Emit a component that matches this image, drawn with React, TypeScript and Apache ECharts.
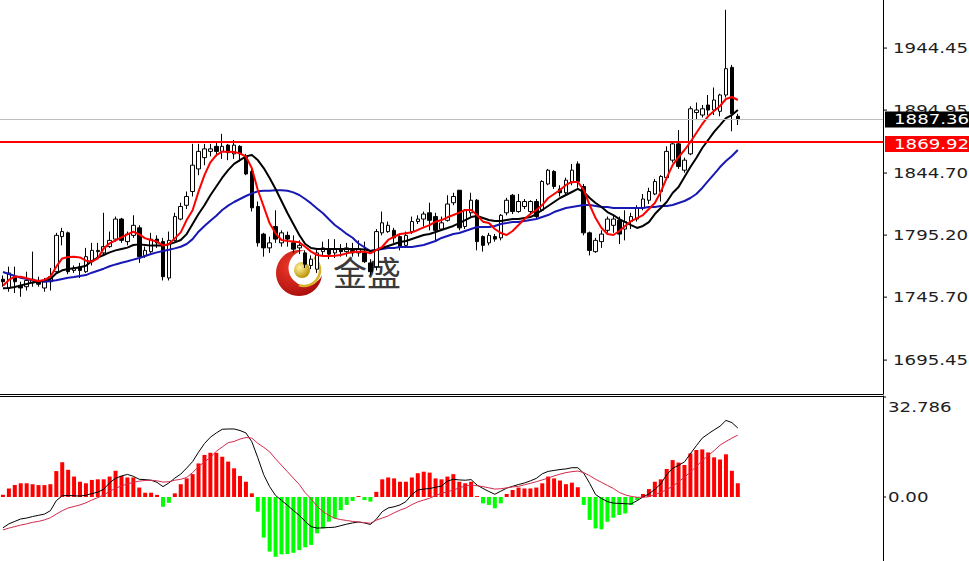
import React, { useEffect, useRef } from 'react';
import * as echarts from 'echarts';

// ---- Candles (OHLC), one per bar ----
const opens = [
  1760, 1753, 1762, 1755, 1754, 1757, 1758, 1753, 1758, 1766,
  1794, 1797, 1767, 1770, 1766, 1774, 1782, 1781, 1786, 1792,
  1808, 1790, 1795, 1801, 1779, 1782, 1792, 1790, 1761, 1791,
  1808, 1819, 1830, 1848, 1857, 1862, 1866, 1862, 1867, 1860,
  1866, 1858, 1846, 1818, 1796, 1785, 1802, 1789, 1795, 1789,
  1785, 1781, 1771, 1768, 1782, 1784, 1781, 1784, 1782, 1783,
  1781, 1781, 1773, 1770, 1797, 1798, 1799, 1794, 1787, 1798,
  1806, 1808, 1813, 1810, 1800, 1807, 1821, 1831, 1802, 1813,
  1823, 1794, 1789, 1794, 1793, 1813, 1827, 1814, 1818, 1814,
  1822, 1815, 1836, 1846, 1832, 1829, 1837, 1852, 1834, 1797,
  1782, 1790, 1799, 1803, 1807, 1800, 1806, 1808, 1817, 1823,
  1828, 1830, 1841, 1855, 1868, 1847, 1860, 1893, 1891, 1899,
  1895, 1894, 1907, 1929, 1890,
];
const closes = [
  1758, 1765, 1758, 1753, 1759, 1760, 1756, 1758, 1762, 1795,
  1798, 1766, 1769, 1767, 1778, 1783, 1783, 1786, 1791, 1808,
  1791, 1796, 1803, 1778, 1783, 1792, 1789, 1762, 1791, 1810,
  1818, 1826, 1851, 1862, 1864, 1864, 1862, 1866, 1861, 1867,
  1860, 1844, 1817, 1789, 1785, 1789, 1792, 1797, 1792, 1784,
  1787, 1772, 1776, 1781, 1785, 1780, 1784, 1782, 1785, 1781,
  1784, 1774, 1766, 1798, 1805, 1803, 1793, 1786, 1795, 1806,
  1808, 1812, 1807, 1799, 1805, 1820, 1826, 1801, 1815, 1823,
  1790, 1787, 1795, 1792, 1811, 1823, 1814, 1822, 1822, 1822,
  1810, 1838, 1847, 1834, 1829, 1839, 1847, 1838, 1797, 1783,
  1791, 1796, 1808, 1808, 1796, 1806, 1810, 1817, 1824, 1830,
  1838, 1842, 1862, 1868, 1850, 1855, 1896, 1895, 1896, 1895,
  1903, 1907, 1928, 1892, 1887.36,
];
const lows = [
  1754, 1750, 1749, 1746, 1751, 1754, 1754, 1750, 1751, 1765,
  1787, 1764, 1765, 1761, 1765, 1771, 1777, 1780, 1785, 1790,
  1789, 1787, 1793, 1773, 1777, 1781, 1785, 1759, 1759, 1790,
  1807, 1816, 1826, 1843, 1851, 1858, 1858, 1856, 1855, 1856,
  1854, 1843, 1814, 1786, 1778, 1781, 1789, 1786, 1786, 1781,
  1780, 1769, 1768, 1765, 1779, 1776, 1777, 1778, 1778, 1778,
  1778, 1773, 1763, 1767, 1795, 1797, 1789, 1783, 1786, 1796,
  1804, 1802, 1799, 1790, 1799, 1806, 1819, 1799, 1800, 1810,
  1783, 1782, 1787, 1790, 1791, 1811, 1812, 1813, 1816, 1811,
  1808, 1814, 1835, 1832, 1826, 1827, 1835, 1833, 1795, 1779,
  1781, 1785, 1797, 1797, 1788, 1791, 1800, 1806, 1815, 1820,
  1827, 1822, 1839, 1853, 1848, 1845, 1859, 1887, 1889, 1891,
  1891, 1890, 1905, 1878, 1883,
];
const highs = [
  1763, 1770, 1770, 1758, 1766, 1782, 1762, 1761, 1769, 1797,
  1801, 1798, 1771, 1773, 1785, 1789, 1789, 1813, 1798, 1810,
  1809, 1798, 1811, 1803, 1786, 1797, 1795, 1793, 1798, 1813,
  1821, 1830, 1868, 1868, 1868, 1868, 1870, 1876, 1868, 1871,
  1867, 1860, 1848, 1822, 1797, 1794, 1815, 1799, 1798, 1795,
  1791, 1783, 1779, 1784, 1790, 1792, 1792, 1788, 1789, 1789,
  1791, 1790, 1776, 1800, 1814, 1806, 1801, 1795, 1798, 1810,
  1811, 1814, 1821, 1813, 1810, 1827, 1829, 1831, 1816, 1829,
  1824, 1795, 1797, 1796, 1812, 1825, 1828, 1828, 1824, 1823,
  1824, 1839, 1848, 1847, 1835, 1841, 1852, 1854, 1836, 1798,
  1793, 1799, 1810, 1811, 1810, 1815, 1813, 1819, 1828, 1833,
  1840, 1843, 1866, 1870, 1879, 1857, 1898, 1901, 1899, 1907,
  1913, 1908, 1975, 1931, 1892,
];

// ---- Moving averages ----
const maRed = [
  1754.8, 1759.4, 1762.0, 1762.0, 1760.7, 1759.4, 1758.6, 1759.4, 1762.0, 1770.0,
  1776.6, 1777.7, 1778.0, 1777.4, 1774.8, 1774.0, 1776.6, 1784.6, 1788.6, 1791.0,
  1793.4, 1795.8, 1797.9, 1795.8, 1792.6, 1791.3, 1790.0, 1786.8, 1788.1, 1792.6,
  1797.4, 1807.2, 1815.0, 1829.9, 1843.1, 1853.3, 1859.1, 1861.8, 1861.8, 1861.5,
  1860.4, 1857.8, 1848.5, 1831.2, 1817.9, 1804.6, 1796.6, 1791.3, 1790.5, 1790.0,
  1789.4, 1785.9, 1782.0, 1779.3, 1778.5, 1778.5, 1778.8, 1779.3, 1780.6, 1781.7,
  1782.0, 1782.0, 1780.7, 1783.3, 1785.9, 1791.3, 1793.9, 1796.1, 1796.6, 1797.4,
  1799.3, 1801.4, 1803.2, 1805.9, 1807.2, 1809.4, 1811.2, 1813.1, 1815.2, 1815.2,
  1811.2, 1805.9, 1804.8, 1800.1, 1796.9, 1795.3, 1798.5, 1803.2, 1808.0, 1812.0,
  1815.2, 1819.2, 1824.8, 1828.0, 1831.2, 1835.2, 1837.6, 1837.6, 1831.2, 1819.2,
  1808.8, 1800.9, 1796.1, 1795.3, 1798.5, 1802.5, 1806.4, 1808.8, 1811.2, 1816.0,
  1820.8, 1829.6, 1840.8, 1851.1, 1857.5, 1863.1, 1869.5, 1876.7, 1883.8, 1890.2,
  1894.2, 1898.2, 1903.8, 1905.4, 1903.0,
];
const maBlack = [
  1752.7, 1753.0, 1753.8, 1755.1, 1756.2, 1757.5, 1758.0, 1759.1, 1760.2, 1764.7,
  1767.1, 1768.1, 1768.7, 1769.5, 1770.8, 1774.5, 1777.2, 1779.3, 1781.4, 1783.0,
  1784.1, 1785.2, 1787.3, 1787.8, 1787.3, 1786.8, 1786.8, 1786.8, 1787.8, 1789.4,
  1791.3, 1796.0, 1804.0, 1812.0, 1819.0, 1827.0, 1834.0, 1841.0, 1847.0, 1852.0,
  1855.0, 1858.0, 1859.1, 1855.1, 1848.7, 1840.8, 1832.0, 1822.4, 1812.8, 1804.0,
  1795.3, 1788.1, 1784.9, 1784.1, 1784.1, 1784.1, 1784.1, 1784.1, 1784.1, 1784.1,
  1784.1, 1783.8, 1782.5, 1783.3, 1784.9, 1786.5, 1788.1, 1789.7, 1790.5, 1792.1,
  1793.7, 1795.3, 1796.1, 1797.7, 1799.3, 1800.9, 1802.5, 1804.8, 1807.2, 1809.6,
  1810.4, 1808.8, 1807.2, 1806.4, 1806.4, 1807.2, 1808.0, 1808.0, 1808.8, 1809.6,
  1812.0, 1815.2, 1818.4, 1821.6, 1824.8, 1827.2, 1829.6, 1832.0, 1829.6, 1824.8,
  1820.8, 1817.6, 1813.6, 1811.2, 1808.0, 1805.6, 1803.2, 1800.9, 1802.5, 1805.6,
  1812.0, 1816.8, 1821.6, 1828.8, 1833.6, 1841.6, 1849.5, 1856.7, 1864.7, 1871.1,
  1877.5, 1883.0, 1888.6, 1891.0, 1895.0,
];
const maBlue = [
  1765.7, 1764.1, 1762.6, 1761.2, 1760.2, 1759.1, 1758.6, 1758.0, 1758.6, 1759.1,
  1760.2, 1761.2, 1761.7, 1762.6, 1763.3, 1765.2, 1766.8, 1768.4, 1770.3, 1771.8,
  1773.2, 1774.3, 1775.6, 1776.9, 1778.5, 1780.1, 1781.4, 1782.5, 1783.5, 1784.6,
  1785.9, 1788.1, 1792.0, 1797.9, 1802.4, 1806.7, 1810.7, 1815.2, 1818.7, 1821.6,
  1824.0, 1826.4, 1828.5, 1830.1, 1830.6, 1830.6, 1830.9, 1830.9, 1830.6, 1829.3,
  1827.2, 1824.0, 1820.5, 1816.5, 1812.6, 1807.8, 1803.3, 1799.8, 1796.1, 1793.1,
  1788.5, 1785.5, 1782.5, 1783.3, 1784.1, 1784.9, 1784.9, 1785.7, 1785.7, 1785.7,
  1786.5, 1787.3, 1788.9, 1790.5, 1792.9, 1794.5, 1796.1, 1796.9, 1798.5, 1800.1,
  1801.7, 1801.7, 1801.7, 1802.5, 1804.0, 1804.8, 1805.6, 1805.6, 1806.4, 1807.2,
  1808.0, 1809.6, 1811.2, 1813.6, 1815.2, 1816.8, 1817.6, 1818.4, 1819.2, 1819.2,
  1818.4, 1817.6, 1817.6, 1816.8, 1816.8, 1816.8, 1816.8, 1816.8, 1816.8, 1817.6,
  1817.6, 1818.4, 1818.4, 1819.2, 1820.8, 1822.4, 1824.8, 1828.0, 1832.8, 1838.4,
  1843.9, 1849.5, 1854.3, 1858.3, 1863.1,
];

// ---- MACD panel ----
const macdHist = [
  0.7, 2.8, 3.9, 4.5, 4.5, 4.2, 3.9, 3.9, 4.2, 8.5,
  11.4, 8.9, 6.7, 5.0, 4.5, 5.6, 5.8, 5.8, 6.7, 8.6,
  6.9, 6.4, 6.4, 3.1, 1.4, 1.4, 0.7, -3.2, -1.9, 1.2,
  4.2, 6.1, 7.5, 11.0, 13.8, 14.5, 14.5, 13.2, 11.6, 9.4,
  6.9, 5.0, 1.2, -4.8, -13.3, -17.9, -19.6, -18.8, -18.7, -18.3,
  -17.4, -16.5, -15.7, -11.9, -10.3, -8.1, -7.0, -4.3, -2.6, -1.3,
  0.3, -1.0, -1.5, 1.7, 5.8, 6.4, 6.1, 5.0, 5.0, 6.4,
  7.8, 8.3, 8.0, 6.1, 5.8, 6.7, 7.5, 5.0, 4.5, 5.0,
  0.3, -2.1, -2.6, -3.7, -2.1, 1.0, 2.3, 3.1, 2.8, 2.8,
  3.1, 4.5, 6.7, 6.1, 5.4, 4.2, 4.7, 3.2, -2.6, -7.5,
  -10.3, -10.6, -8.1, -6.8, -5.9, -5.4, -2.6, -1.0, 1.0, 2.6,
  5.0, 5.8, 9.2, 12.1, 11.3, 10.5, 14.3, 15.4, 15.6, 14.6,
  13.0, 12.3, 14.0, 8.6, 4.5,
];
const macdDif = [
  -10.1, -8.8, -8.0, -7.2, -6.9, -6.4, -6.0, -5.6, -4.5, -1.2,
  0.4, 0.5, 0.4, 0.3, 0.6, 1.1, 1.6, 2.5, 4.7, 6.1,
  6.9, 7.4, 6.8, 5.8, 5.7, 5.5, 4.8, 3.4, 4.6, 6.2,
  7.5, 9.5, 11.6, 14.7, 17.5, 19.6, 21.0, 22.2, 22.3, 22.3,
  21.8, 21.0, 18.1, 12.9, 7.3, 3.4, 0.5, -1.1, -2.7, -4.4,
  -6.0, -8.0, -9.7, -10.2, -10.1, -10.0, -9.9, -9.4, -8.9, -8.5,
  -8.2, -8.5, -9.0, -7.3, -4.8, -3.6, -3.2, -2.6, -1.5, 0.8,
  2.3, 2.6, 2.8, 3.2, 3.6, 5.2, 5.8, 5.6, 5.5, 5.7,
  3.9, 2.8, 1.8, 0.9, 1.9, 2.9, 3.5, 4.1, 4.6, 5.3,
  6.1, 7.6, 8.4, 8.7, 9.0, 9.2, 9.6, 9.6, 7.8, 4.5,
  0.8, -0.5, -1.5, -2.0, -2.1, -2.2, -2.3, -1.2, 0.0, 1.0,
  2.5, 4.3, 7.3, 9.4, 10.4, 11.5, 14.2, 16.8, 19.3, 20.7,
  22.0, 23.2, 25.1, 24.4, 22.6,
];
const macdDea = [
  -10.8, -10.2, -9.7, -9.2, -8.8, -8.3, -8.0, -7.5, -6.8, -5.6,
  -4.5, -3.6, -3.1, -2.6, -1.9, -1.0, -0.2, 0.7, 1.8, 2.9,
  3.6, 4.3, 4.8, 5.2, 5.4, 5.5, 5.3, 4.9, 5.0, 5.5,
  5.8, 6.4, 8.0, 10.0, 11.5, 13.0, 15.0, 16.4, 17.8, 18.2,
  19.0, 19.5, 19.3, 17.6, 16.3, 14.8, 12.5, 10.4, 8.3, 6.2,
  4.1, 1.4, -0.6, -3.0, -4.8, -6.0, -7.0, -7.4, -7.7, -8.0,
  -8.2, -8.4, -8.6, -7.6, -6.9, -6.2, -5.2, -4.3, -3.6, -2.5,
  -1.6, -1.0, -0.4, 0.5, 1.2, 1.7, 2.3, 3.0, 3.6, 3.9,
  3.7, 3.4, 3.0, 2.6, 2.7, 3.0, 3.3, 3.5, 4.0, 4.5,
  5.0, 5.6, 6.2, 6.9, 7.5, 8.0, 8.3, 8.5, 8.0, 7.0,
  5.8, 4.8, 3.8, 2.8, 1.5, 0.7, 0.2, -0.1, -0.1, 0.1,
  0.8, 1.5, 2.4, 3.5, 5.0, 6.5, 8.2, 10.0, 11.9, 13.6,
  15.2, 17.0, 18.2, 19.3, 20.3,
];

// ---- Axis ticks / levels ----
const priceTicks = [1944.45, 1894.95, 1844.7, 1795.2, 1745.7, 1695.45];
const priceTickLabels = ['1944.45', '1894.95', '1844.70', '1795.20', '1745.70', '1695.45'];
const macdTicks = [32.786, 0];
const macdTickLabels = ['32.786', '0.00'];
const lastPrice = 1887.36;
const lastPriceLabel = '1887.36';
const levelPrice = 1869.92;
const levelPriceLabel = '1869.92';
const SLOT_COUNT = 149; // bar slots across the plot, the right part stays empty

const W = 969;
const H = 561;
const RIGHT = 86;
const FONT = '14px "DejaVu Sans", Verdana, sans-serif';

export default function App() {
  const ref = useRef<HTMLDivElement>(null);

  useEffect(() => {
    if (!ref.current) return;
    const chart = echarts.init(ref.current, null, { renderer: 'svg' });
    const slots = Array.from({ length: SLOT_COUNT }, (_, i) => String(i));
    const candles = opens.map((o, i) => [o, closes[i], lows[i], highs[i]]);

    const hiddenAxis = {
      axisTick: { show: false },
      axisLabel: { show: false },
      splitLine: { show: false },
    };

    chart.setOption({
      animation: false,
      backgroundColor: '#ffffff',
      grid: [
        { left: 0, right: RIGHT, top: 0, height: 394 },
        { left: 0, right: RIGHT, top: 396, bottom: 0 },
      ],
      xAxis: [
        {
          type: 'category', data: slots, gridIndex: 0, boundaryGap: true,
          axisLine: { show: true, onZero: false, lineStyle: { color: '#000', width: 1 } },
          ...hiddenAxis,
        },
        {
          type: 'category', data: slots, gridIndex: 1, boundaryGap: true, position: 'top',
          axisLine: { show: true, onZero: false, lineStyle: { color: '#000', width: 1 } },
          ...hiddenAxis,
        },
      ],
      yAxis: [
        {
          type: 'value', gridIndex: 0, position: 'right', min: 1668.4, max: 1982.8, scale: true,
          axisLine: { show: true, lineStyle: { color: '#000', width: 1 } },
          ...hiddenAxis,
        },
        {
          type: 'value', gridIndex: 1, position: 'right', min: -20.98, max: 33.11,
          axisLine: { show: true, lineStyle: { color: '#000', width: 1 } },
          ...hiddenAxis,
        },
      ],
      series: [
        {
          name: 'price', type: 'candlestick', xAxisIndex: 0, yAxisIndex: 0,
          data: candles, barWidth: 4,
          itemStyle: {
            color: '#ffffff', color0: '#000000',
            borderColor: '#000000', borderColor0: '#000000', borderWidth: 1,
          },
          markLine: {
            silent: true, symbol: ['none', 'none'], animation: false,
            label: { show: false },
            data: [
              { yAxis: lastPrice, lineStyle: { color: '#bdbdbd', width: 1, type: 'solid' } },
              { yAxis: levelPrice, lineStyle: { color: '#ff0000', width: 2, type: 'solid' } },
            ],
          },
        },
        {
          name: 'MA slow', type: 'line', data: maBlue, showSymbol: false, symbol: 'none',
          lineStyle: { color: '#1818b4', width: 2 }, z: 3,
        },
        {
          name: 'MA mid', type: 'line', data: maBlack, showSymbol: false, symbol: 'none',
          lineStyle: { color: '#000000', width: 2 }, z: 3,
        },
        {
          name: 'MA fast', type: 'line', data: maRed, showSymbol: false, symbol: 'none',
          lineStyle: { color: '#ff0000', width: 2 }, z: 4,
        },
        {
          name: 'MACD', type: 'bar', xAxisIndex: 1, yAxisIndex: 1, data: macdHist, barWidth: 4,
          itemStyle: {
            color: (p: any) => (p.value >= 0 ? '#ff0000' : '#00ff00'),
          },
        },
        {
          name: 'DIF', type: 'line', xAxisIndex: 1, yAxisIndex: 1, data: macdDif,
          showSymbol: false, symbol: 'none', lineStyle: { color: '#000000', width: 1 }, z: 4,
        },
        {
          name: 'DEA', type: 'line', xAxisIndex: 1, yAxisIndex: 1, data: macdDea,
          showSymbol: false, symbol: 'none', lineStyle: { color: '#d4284c', width: 1 }, z: 4,
        },
      ],
    });

    const ax = chart.getWidth() - RIGHT;
    const graphics: any[] = [];

    // watermark logo
    graphics.push({
      type: 'group', z: 0, silent: true,
      children: [
        {
          type: 'circle', shape: { cx: 299, cy: 273, r: 23 },
          style: {
            fill: new echarts.graphic.RadialGradient(0.35, 0.35, 0.8, [
              { offset: 0, color: '#f03a2a' },
              { offset: 1, color: '#a00808' },
            ]),
          },
        },
        { type: 'circle', shape: { cx: 306, cy: 268, r: 17.5 }, style: { fill: '#ffffff' } },
        {
          type: 'arc', shape: { cx: 304, cy: 270, r: 16, startAngle: -0.9, endAngle: 1.9 },
          style: { stroke: '#d9b22a', lineWidth: 2.5, fill: 'none' },
        },
        {
          type: 'circle', shape: { cx: 302, cy: 270, r: 8 },
          style: {
            fill: new echarts.graphic.RadialGradient(0.35, 0.35, 0.7, [
              { offset: 0, color: '#fff3a0' },
              { offset: 1, color: '#b89000' },
            ]),
          },
        },
        {
          type: 'text', x: 333, y: 271,
          style: {
            text: '金盛', fill: '#3a3a3a',
            font: '34px "Noto Sans CJK SC", sans-serif',
            textVerticalAlign: 'middle', verticalAlign: 'middle',
          },
        },
      ],
    });

    // price axis ticks and labels
    priceTicks.forEach((v, k) => {
      const y = chart.convertToPixel({ yAxisIndex: 0 }, v) as number;
      graphics.push({
        type: 'line', z: 5, silent: true,
        shape: { x1: ax, y1: y, x2: ax + 4, y2: y },
        style: { stroke: '#000', lineWidth: 1 },
      });
      graphics.push({
        type: 'text', z: 5, silent: true, x: ax + 10, y, scaleX: 1.3,
        style: {
          text: priceTickLabels[k], fill: '#1e1e1e', font: FONT,
          textVerticalAlign: 'middle', verticalAlign: 'middle',
        },
      });
    });

    // MACD axis ticks and labels
    macdTicks.forEach((v, k) => {
      const y = chart.convertToPixel({ yAxisIndex: 1 }, v) as number;
      const top = k === 0;
      graphics.push({
        type: 'line', z: 5, silent: true,
        shape: { x1: ax, y1: y, x2: ax + 3, y2: y },
        style: { stroke: '#000', lineWidth: 1 },
      });
      graphics.push({
        type: 'text', z: 5, silent: true, x: ax + 5, y: top ? y + 3 : y, scaleX: 1.3,
        style: {
          text: macdTickLabels[k], fill: '#1e1e1e', font: FONT,
          textVerticalAlign: top ? 'top' : 'middle', verticalAlign: top ? 'top' : 'middle',
        },
      });
    });

    // current price and level boxes
    const boxes = [
      { v: lastPrice, label: lastPriceLabel, bg: '#000000', dy: 0 },
      { v: levelPrice, label: levelPriceLabel, bg: '#ff0000', dy: 2.5 },
    ];
    boxes.forEach((b) => {
      const y = (chart.convertToPixel({ yAxisIndex: 0 }, b.v) as number) + b.dy;
      graphics.push({
        type: 'rect', z: 20, silent: true,
        shape: { x: ax + 2, y: y - 8, width: W - ax - 2, height: 16 },
        style: { fill: b.bg },
      });
      graphics.push({
        type: 'text', z: 21, silent: true, x: ax + 11, y, scaleX: 1.3,
        style: {
          text: b.label, fill: '#ffffff', font: FONT,
          textVerticalAlign: 'middle', verticalAlign: 'middle',
        },
      });
    });

    chart.setOption({ graphic: graphics });

    return () => chart.dispose();
  }, []);

  return (
    <div
      ref={ref}
      style={{ position: 'fixed', left: 0, top: 0, width: W, height: H, background: '#fff' }}
    />
  );
}
